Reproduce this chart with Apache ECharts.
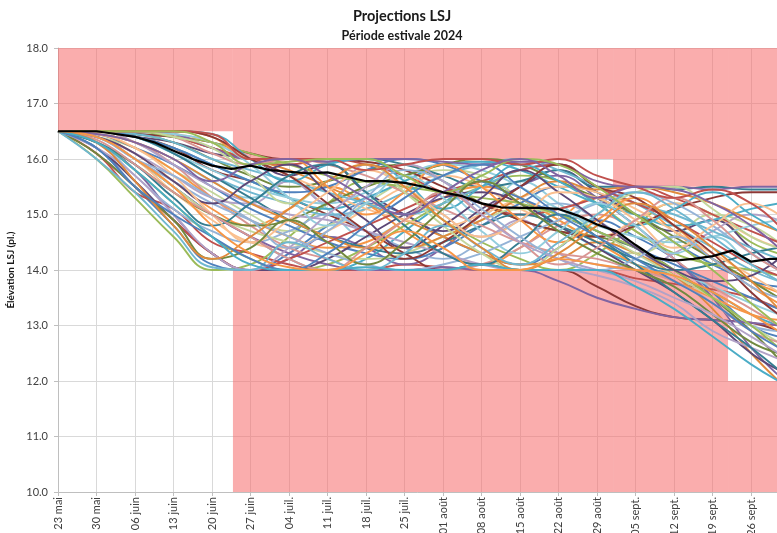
<!DOCTYPE html>
<html><head><meta charset="utf-8">
<script src="https://cdn.jsdelivr.net/npm/echarts@6/dist/echarts.min.js"></script>
<style>html,body{margin:0;padding:0;background:#fff;overflow:hidden}#c{width:777px;height:533px}</style>
</head><body><div id="c"></div>
<script>
// x values in days after 23 mai 2024
const tickLabels = ["23 mai","30 mai","06 juin","13 juin","20 juin","27 juin","04 juil.","11 juil.","18 juil.","25 juil.","01 août","08 août","15 août","22 août","29 août","05 sept.","12 sept.","19 sept.","26 sept."];
const days = [0,7,14,21,28,35,42,49,56,63,70,77,84,91,98,105,112,119,126,131];
const meanDays = [0,3.5,7,10.5,14,17.5,21,24.5,28,31.5,35,38.5,42,45.5,49,52.5,56,59.5,63,66.5,70,73.5,77,80.5,84,87.5,91,94.5,98,101.5,105,108.5,112,115.5,119,122.5,126,129.5,131];
const meanValues = [16.5,16.5,16.5,16.45,16.4,16.3,16.15,16.0,15.88,15.82,15.88,15.8,15.77,15.74,15.76,15.68,15.6,15.6,15.57,15.5,15.4,15.33,15.2,15.13,15.12,15.12,15.1,14.98,14.82,14.7,14.45,14.22,14.17,14.2,14.25,14.35,14.15,14.2,14.2];

const t01 = [16.5,16.2,15.5,14.8,14.1,14.0,14.3,14.8,15.2,15.0,14.6,14.3,14.1,14.4,14.9,14.6,14.2,13.6,13.0,12.8];
const t02 = [16.5,16.1,15.4,15.1,14.5,14.3,14.1,14.0,14.0,14.1,14.05,14.0,14.0,14.0,14.0,13.85,13.75,13.65,13.5,13.3];
const t03 = [16.5,16.0,15.3,14.6,14.0,14.1,14.6,15.2,15.6,15.4,14.9,14.5,14.2,14.0,14.3,14.8,15.2,15.0,14.5,14.3];
const t04 = [16.5,16.3,15.8,15.0,14.3,14.0,14.2,14.6,14.4,14.1,14.4,15.0,15.5,15.7,15.3,14.8,14.2,13.5,12.6,12.1];
const t05 = [16.5,16.4,16.0,15.5,15.0,14.6,14.2,14.0,14.2,14.7,15.2,15.6,15.3,14.8,14.4,14.1,13.9,13.6,13.2,13.0];
const t06 = [16.5,16.4,16.1,15.6,15.1,14.8,15.1,15.5,15.2,14.7,14.3,14.1,14.4,14.9,15.3,15.2,14.7,14.2,13.8,13.6];
const t07 = [16.5,16.45,16.3,16.0,15.6,15.3,15.6,15.1,14.6,14.9,15.4,15.0,15.6,15.2,14.7,14.4,14.0,13.7,13.4,13.2];
const t08 = [16.5,16.5,16.4,16.2,15.8,15.6,15.3,15.0,14.7,14.3,14.0,14.1,14.0,14.0,13.7,13.35,13.15,13.1,13.05,12.9];
const t09 = [16.5,16.4,16.2,15.8,15.4,15.0,14.7,14.8,15.2,15.6,15.8,15.7,15.3,14.9,14.5,14.3,14.6,15.0,14.8,14.5];
const t10 = [16.5,16.5,16.4,16.3,16.1,16.0,15.7,15.9,15.4,15.0,14.7,15.1,15.5,15.8,15.4,15.0,14.7,14.9,14.4,14.0];
const t11 = [16.5,16.5,16.45,16.4,16.2,16.0,16.0,15.95,16.0,15.9,15.7,15.5,15.6,15.8,15.5,15.5,15.45,15.5,15.45,15.45];
const t12 = [16.5,16.4,16.0,15.4,14.9,14.5,14.4,14.7,15.1,15.5,15.7,15.5,15.1,14.8,14.6,14.9,15.2,15.0,14.6,14.4];
const t13 = [16.5,16.3,15.7,15.1,14.7,14.5,14.7,15.0,14.7,14.4,14.2,14.5,14.9,15.2,14.9,14.4,13.9,13.4,13.0,12.9];
const t14 = [16.5,16.5,16.3,15.9,15.3,14.8,14.4,14.2,14.0,14.0,14.0,14.1,14.4,14.8,15.0,14.7,14.2,13.7,13.3,13.0];
const t15 = [16.5,16.5,16.45,16.3,16.0,15.7,15.5,15.6,15.8,15.9,15.6,15.2,14.9,14.7,14.6,14.4,14.0,13.5,12.9,12.4];
const t16 = [16.5,16.4,16.1,15.7,15.3,15.2,15.6,15.2,15.9,15.5,15.0,14.6,14.9,14.3,14.1,14.0,14.3,14.7,15.0,14.9];
const t17 = [16.5,16.5,16.4,16.1,15.7,15.4,15.2,15.0,15.1,15.4,15.7,15.9,16.0,15.8,15.5,15.2,14.8,14.4,14.0,13.8];
const t18 = [16.5,16.5,16.5,16.4,16.2,16.0,15.8,15.5,15.2,14.9,14.6,14.3,14.1,14.2,14.5,14.3,13.9,13.3,12.5,12.0];
const t19 = [16.5,16.45,16.2,15.9,15.5,15.1,14.8,14.5,14.3,14.2,14.4,14.8,15.2,15.5,15.4,15.0,14.5,14.1,13.8,13.7];
const t20 = [16.5,16.5,16.5,16.4,16.2,16.0,15.9,16.0,15.9,15.7,15.4,15.2,15.0,15.1,15.3,15.5,15.3,15.0,14.7,14.5];
const t21 = [16.5,16.3,15.8,15.2,14.6,14.2,14.0,14.1,14.4,14.8,15.2,15.5,15.7,15.6,15.2,14.7,14.3,14.1,14.0,13.9];
const t22 = [16.5,16.4,16.0,15.5,15.0,14.6,14.3,14.1,14.0,14.0,14.05,14.0,14.0,13.8,13.5,13.3,13.15,13.1,13.05,13.0];
const t23 = [16.5,16.5,16.4,16.2,15.9,15.6,15.3,15.1,15.3,15.6,15.9,15.95,15.8,15.5,15.2,15.0,14.8,14.9,15.1,15.2];
const t24 = [16.5,16.45,16.2,15.8,15.3,14.9,14.6,14.4,14.5,14.9,15.3,15.5,15.3,14.9,14.5,14.1,13.8,13.5,13.2,13.1];
const t25 = [16.5,16.5,16.4,16.1,15.8,15.5,15.3,15.2,15.4,15.7,15.9,15.8,15.5,15.1,14.8,14.6,14.5,14.6,14.8,14.9];
const t26 = [16.5,16.5,16.45,16.4,16.3,16.1,16.0,16.0,15.95,15.8,15.5,15.2,14.9,14.7,14.6,14.8,15.1,15.3,15.4,15.4];
const t27 = [16.5,16.4,16.0,15.5,15.0,14.7,14.5,14.3,14.2,14.3,14.6,14.9,15.1,15.0,14.7,14.3,13.9,13.5,13.0,12.7];
const t28 = [16.5,16.2,15.6,14.9,14.3,14.0,14.0,14.2,14.6,15.0,15.3,15.4,15.2,14.8,14.4,14.0,13.6,13.1,12.5,12.2];
const t29 = [16.5,16.5,16.4,16.1,15.7,15.3,14.9,14.6,14.4,14.3,14.5,14.8,15.0,14.8,14.5,14.2,14.0,14.1,14.3,14.4];
const t30 = [16.5,16.5,16.5,16.45,16.3,16.0,15.7,15.4,15.1,14.9,14.8,15.0,15.3,15.5,15.4,15.1,14.7,14.3,13.9,13.6];
const t31 = [16.5,16.4,16.0,15.6,15.2,14.9,14.6,14.3,14.1,14.0,14.1,14.3,14.6,14.9,15.2,15.4,15.2,14.8,14.3,14.0];
const t32 = [16.5,16.5,16.5,16.4,16.1,15.9,16.0,15.9,15.7,15.4,15.1,14.8,14.5,14.3,14.2,14.0,13.8,13.4,12.9,12.7];
const t33 = [16.5,16.3,15.9,15.4,15.0,14.8,14.9,15.2,15.5,15.7,15.9,16.0,15.9,15.6,15.3,15.0,14.6,14.2,13.8,13.5];
const t34 = [16.5,16.5,16.3,15.9,15.5,15.2,15.0,14.9,14.7,14.5,14.3,14.1,14.0,14.0,13.9,13.7,13.4,12.9,12.6,12.4];
const t35 = [16.5,16.5,16.45,16.3,16.0,15.8,15.6,15.4,15.2,15.0,15.2,15.5,15.8,15.9,15.5,15.2,15.0,14.7,14.4,14.2];
const t36 = [16.5,16.45,16.3,16.0,15.6,15.2,14.9,14.6,14.4,14.4,14.6,14.9,15.3,15.6,15.45,15.5,15.4,15.2,14.9,14.7];
const t37 = [16.5,16.5,16.4,16.2,15.9,15.6,15.4,15.5,15.8,16.0,15.9,15.6,15.3,15.0,14.7,14.4,14.1,13.8,13.5,13.3];
const t38 = [16.5,16.1,15.5,14.9,14.3,14.0,14.2,14.5,14.8,15.1,15.4,15.6,15.8,15.9,15.5,15.2,14.9,14.5,14.1,13.9];
const t39 = [16.5,16.5,16.5,16.4,16.3,16.1,15.9,15.7,15.6,15.5,15.4,15.3,15.2,15.0,14.7,14.4,14.0,13.5,13.0,12.6];
const t40 = [16.5,16.5,16.5,16.45,16.2,16.0,16.0,15.95,16.0,16.0,15.95,15.9,15.95,15.9,15.6,15.5,15.5,15.45,15.5,15.5];
const t41 = [16.5,16.5,16.5,16.5,16.45,16.0,15.6,15.9,16.0,15.6,15.1,15.5,15.9,15.6,15.2,14.8,15.1,15.4,15.0,14.7];
const t42 = [16.5,16.5,16.5,16.5,16.4,16.0,16.0,15.5,15.0,15.4,15.9,15.5,14.9,14.5,14.9,15.3,14.8,14.2,13.7,13.4];
const t43 = [16.5,16.5,16.5,16.45,16.3,15.9,15.3,14.8,15.2,15.7,15.3,14.7,14.3,14.7,15.2,14.8,14.3,14.6,14.1,13.8];
const t44 = [16.5,16.5,16.5,16.5,16.4,16.0,15.7,15.2,14.7,14.2,14.5,15.0,15.5,15.9,15.5,15.3,14.8,14.3,13.6,13.2];
const t45 = [16.5,16.5,16.5,16.4,16.2,15.7,15.2,15.6,15.9,15.4,14.8,14.3,14.0,14.4,15.0,15.4,15.5,15.1,14.6,14.4];
const t46 = [16.5,16.4,16.1,15.6,15.2,15.6,15.9,15.4,14.9,14.4,14.8,15.3,15.8,15.4,14.9,14.4,14.0,13.8,13.9,14.2];
const t47 = [16.5,16.3,15.9,15.3,14.8,15.2,15.7,15.9,15.4,14.8,14.3,14.1,14.5,15.0,14.6,14.1,13.6,13.1,12.6,12.2];
const t48 = [16.5,16.45,16.2,15.7,15.0,14.5,14.9,15.4,15.8,15.5,15.0,14.6,14.9,15.4,15.3,14.9,14.4,14.8,15.2,15.0];
const t49 = [16.5,16.4,16.0,15.7,15.3,14.9,14.4,14.7,15.3,15.8,15.6,15.1,14.6,14.2,14.0,14.2,14.6,14.2,13.7,13.5];
const t50 = [16.5,16.35,15.9,15.4,15.0,14.6,14.2,14.0,14.4,14.9,15.4,15.0,14.5,14.1,14.4,14.9,15.3,14.9,14.3,14.0];
const t51 = [16.5,16.1,15.5,14.9,14.2,14.4,14.9,14.5,14.1,14.5,15.1,15.6,15.2,14.7,14.3,14.0,13.7,13.2,12.7,12.5];
const t52 = [16.5,16.2,15.7,15.0,14.3,14.0,14.4,15.0,15.5,15.9,15.6,15.0,14.5,14.2,14.0,13.8,13.5,13.2,12.8,12.5];
const t53 = [16.5,16.0,15.4,14.7,14.05,14.0,14.5,14.2,14.0,14.3,14.8,14.4,14.1,14.5,15.0,15.4,15.1,14.6,14.1,13.8];
const t54 = [16.5,16.3,15.6,14.8,14.2,14.6,15.1,15.6,15.9,15.5,14.9,14.4,14.0,14.3,14.8,15.2,14.9,14.4,13.8,13.3];
const t55 = [16.5,16.2,15.5,15.0,14.6,14.2,14.0,14.3,14.8,15.3,15.7,15.9,15.5,15.0,14.6,14.2,13.8,13.4,12.9,12.6];
const t56 = [16.5,16.5,16.5,16.5,16.45,16.0,16.0,16.0,15.8,15.9,16.0,16.0,15.9,16.0,15.7,15.5,15.3,15.45,15.2,14.8];
const t57 = [16.5,16.5,16.5,16.5,16.3,15.9,15.95,16.0,16.0,15.7,15.4,15.7,16.0,15.9,15.5,15.0,14.5,14.0,13.4,13.0];
const t58 = [16.5,16.45,16.3,16.0,15.6,15.9,16.0,15.7,15.3,15.0,15.4,15.8,16.0,15.7,15.3,15.5,15.45,15.2,14.8,14.4];
const t59 = [16.5,16.3,15.8,15.2,14.6,14.1,14.0,14.0,14.05,14.0,14.0,14.1,14.0,14.0,14.0,13.7,13.3,12.8,12.3,12.0];
const t60 = [16.5,16.4,16.0,15.5,14.8,14.3,14.05,14.0,14.3,14.7,14.4,14.0,14.0,14.2,14.1,14.0,13.9,13.6,13.2,12.9];
const traces = [t01,t02,t03,t04,t05,t06,t07,t08,t09,t10,t11,t12,t13,t14,t15,t16,t17,t18,t19,t20,t21,t22,t23,t24,t25,t26,t27,t28,t29,t30,
                t31,t32,t33,t34,t35,t36,t37,t38,t39,t40,t41,t42,t43,t44,t45,t46,t47,t48,t49,t50,t51,t52,t53,t54,t55,t56,t57,t58,t59,t60];

// forbidden zones
const zoneStart = [0, 31.8, 31.8, 100.9, 100.9, 121.8, 121.8];
const zoneEnd   = [31.8, 100.9, 100.9, 121.8, 121.8, 135, 135];
const zoneLow   = [16.5, 16.0, 10.0, 15.5, 10.0, 15.5, 10.0];
const zoneHigh  = [18.0, 18.0, 14.0, 18.0, 14.0, 18.0, 12.0];

const palette = ['#4F81BD','#C0504D','#9BBB59','#8064A2','#4BACC6','#F79646',
                 '#93CDDD','#8C3836','#C3D69B','#5C4776','#357D91','#FAC090',
                 '#95B3D7','#D99694','#71893F','#B2A2C7','#6FB7D0','#E08A3C'];

const font = 'Lato, "Open Sans", sans-serif';
const chart = echarts.init(document.getElementById('c'));
const series = [];
series.push({
  type: 'line', data: [], z: 1, silent: true,
  markArea: {
    silent: true,
    itemStyle: { color: 'rgba(245,105,105,0.55)' },
    data: zoneStart.map((s, i) => [{ xAxis: s, yAxis: zoneLow[i] }, { xAxis: zoneEnd[i], yAxis: zoneHigh[i] }])
  }
});
traces.forEach((t, i) => {
  series.push({
    type: 'line', z: 2, smooth: 0.45, showSymbol: false, silent: true,
    lineStyle: { width: 1.9, color: palette[i % palette.length] },
    data: days.map((d, j) => [d, t[j]])
  });
});
series.push({
  type: 'line', z: 5, showSymbol: false, silent: true,
  lineStyle: { width: 2.2, color: '#000' },
  data: meanDays.map((d, j) => [d, meanValues[j]])
});

chart.setOption({
  animation: false,
  title: [
    { text: 'Projections LSJ', left: 397, top: 4, textAlign: 'center', textStyle: { fontFamily: font, fontSize: 14.5, fontWeight: 'bold', color: '#1a1a1a' } },
    { text: 'Période estivale 2024', left: 397, top: 24, textAlign: 'center', textStyle: { fontFamily: font, fontSize: 12.5, fontWeight: 'bold', color: '#1a1a1a' } }
  ],
  grid: { left: 58, top: 48, right: 0, height: 444, containLabel: false, outerBoundsMode: 'none' },
  xAxis: {
    type: 'value', min: 0, max: 130.7, interval: 7,
    axisLine: { lineStyle: { color: '#bfbfbf' } },
    axisTick: { show: true, length: 4, lineStyle: { color: '#bfbfbf' } },
    splitLine: { show: true, lineStyle: { color: '#d9d9d9', width: 1 } },
    axisLabel: { rotate: 90, margin: 5, fontFamily: font, fontSize: 11, color: '#404040', showMaxLabel: false,
      formatter: v => tickLabels[Math.round(v / 7)] || '' }
  },
  yAxis: {
    type: 'value', min: 10, max: 18, interval: 1,
    name: 'Élévation LSJ (pl.)', nameLocation: 'middle', nameGap: 34,
    nameTextStyle: { fontFamily: font, fontSize: 10, fontWeight: 'bold', color: '#1a1a1a' },
    axisLine: { show: true, lineStyle: { color: '#bfbfbf' } },
    axisTick: { show: true, length: 4, lineStyle: { color: '#bfbfbf' } },
    splitLine: { show: true, lineStyle: { color: '#d9d9d9', width: 1 } },
    axisLabel: { fontFamily: font, fontSize: 11, color: '#404040', margin: 10, formatter: v => v.toFixed(1) }
  },
  series: series
});
</script>
</body></html>
